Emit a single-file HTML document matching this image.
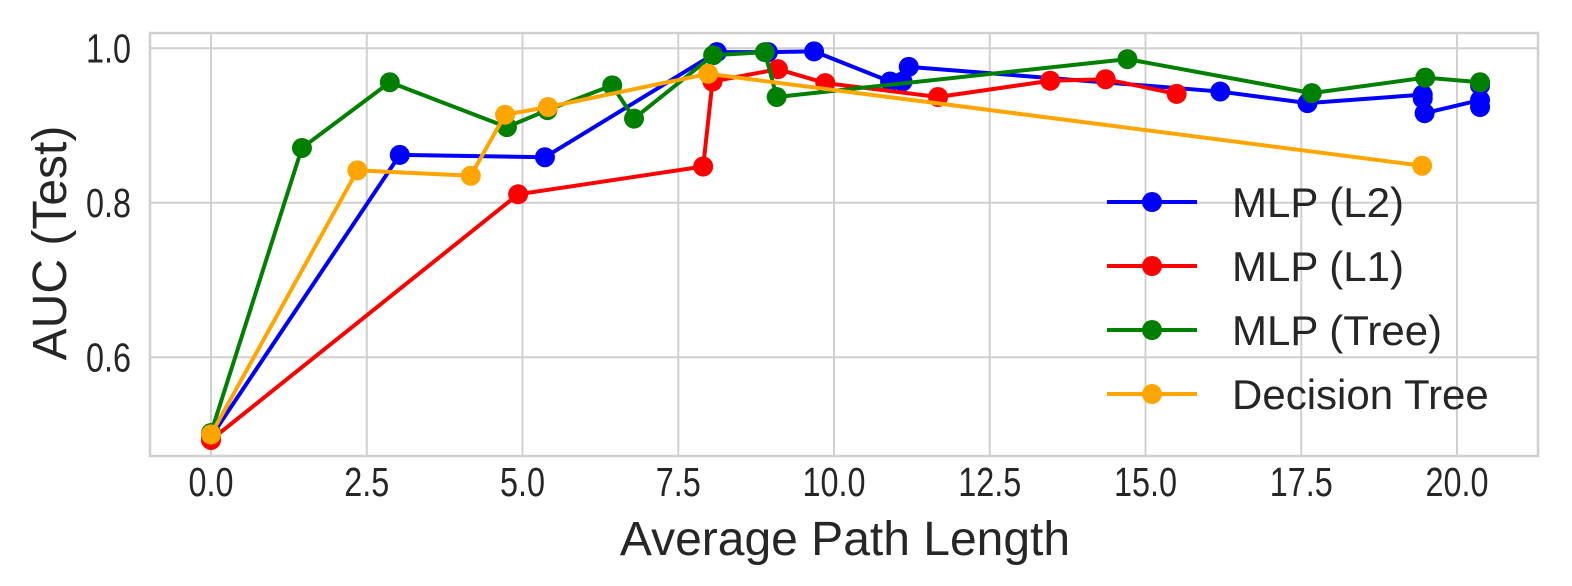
<!DOCTYPE html>
<html><head><meta charset="utf-8"><style>
body{margin:0;background:#fff;}
svg{display:block;font-family:"Liberation Sans",Arial,sans-serif;}
</style></head><body>
<svg id="chart" width="1572" height="586" viewBox="0 0 1572 586" xmlns="http://www.w3.org/2000/svg"></svg>
<script>
const xTicks=[0,2.5,5,7.5,10,12.5,15,17.5,20];
const yTicks=[0.6,0.8,1.0];
const seriesNames=["MLP (L2)","MLP (L1)","MLP (Tree)","Decision Tree"];
const seriesColors=["#0000ff","#ff0000","#008000","#ffa500"];
const l2X=[0,3.03,5.36,8.12,8.94,9.68,10.9,11.1,11.2,16.2,17.6,19.45,19.45,19.48,20.37,20.37,20.37];
const l2Y=[0.497,0.862,0.859,0.995,0.995,0.996,0.957,0.957,0.976,0.944,0.929,0.94,0.935,0.916,0.933,0.924,0.952];
const l1X=[0,4.93,7.9,8.05,9.1,9.86,11.67,13.47,14.36,15.5];
const l1Y=[0.493,0.811,0.847,0.957,0.973,0.955,0.937,0.958,0.960,0.941];
const treeX=[0,1.46,2.87,4.75,5.4,6.44,6.79,8.06,8.89,9.08,14.71,17.67,19.49,20.37];
const treeY=[0.502,0.871,0.956,0.898,0.92,0.952,0.909,0.991,0.995,0.937,0.986,0.942,0.962,0.956];
const dtX=[0,2.35,4.17,4.72,5.41,7.98,19.44];
const dtY=[0.50,0.842,0.835,0.914,0.924,0.967,0.848];

const NS="http://www.w3.org/2000/svg";
const svg=document.getElementById('chart');
const L=150,R=1538,T=33,B=456;
function xs(v){return 211+62.3*v;}
function ys(v){return 48.3+(1-v)*772.5;}
function mk(tag,attrs,parent){const e=document.createElementNS(NS,tag);for(const k in attrs)e.setAttribute(k,attrs[k]);(parent||svg).appendChild(e);return e;}

const frame=mk('rect',{x:L,y:T,width:R-L,height:B-T,fill:'#fff',stroke:'#d0d0d0','stroke-width':2.5});


xTicks.forEach(t=>{
  const g=mk('line',{x1:xs(t),x2:xs(t),y1:T,y2:B,stroke:'#d0d0d0','stroke-width':2});
  
  
  const tx=mk('text',{x:0,y:0,'font-size':36,'text-anchor':'middle',fill:'#262626',transform:'translate('+xs(t)+',496) scale(0.9,1.12)'});
  tx.textContent=t.toFixed(1);
  
  
});
yTicks.forEach(t=>{
  const g=mk('line',{x1:L,x2:R,y1:ys(t),y2:ys(t),stroke:'#d0d0d0','stroke-width':2});
  
  
  const tx=mk('text',{x:0,y:0,'font-size':36,'text-anchor':'end',fill:'#262626',transform:'translate(131,'+(ys(t)+14)+') scale(0.9,1.12)'});
  tx.textContent=t.toFixed(1);
  
  
});
const xl=mk('text',{x:845,y:555,'font-size':48,'text-anchor':'middle',fill:'#262626'});
xl.textContent='Average Path Length';


const yl=mk('text',{x:0,y:0,'font-size':48,'text-anchor':'middle',fill:'#262626',transform:'translate(66,243) rotate(-90)'});
yl.textContent='AUC (Test)';



const allX=[l2X,l1X,treeX,dtX],allY=[l2Y,l1Y,treeY,dtY];
const keys=['mlp-l2','mlp-l1','mlp-tree','decision-tree'];
allX.forEach((X,i)=>{
  const g=mk('g',{});
  
  
  const pts=X.map((x,j)=>xs(x)+','+ys(allY[i][j])).join(' ');
  const pl=mk('polyline',{points:pts,fill:'none',stroke:seriesColors[i],'stroke-width':4,'stroke-linejoin':'round'},g);
  
  
  X.forEach((x,j)=>{
    const c=mk('circle',{cx:xs(x),cy:ys(allY[i][j]),r:10,fill:seriesColors[i]},g);
    
    
  });
});
seriesNames.forEach((n,i)=>{
  const y=202+64*i;
  const g=mk('g',{});
  
  
  mk('line',{x1:1107,x2:1197,y1:y,y2:y,stroke:seriesColors[i],'stroke-width':4},g);
  mk('circle',{cx:1152,cy:y,r:10,fill:seriesColors[i]},g);
  const t=mk('text',{x:1232,y:y+15,'font-size':42,fill:'#262626'},g);
  t.textContent=n;
});
</script>
</body></html>
